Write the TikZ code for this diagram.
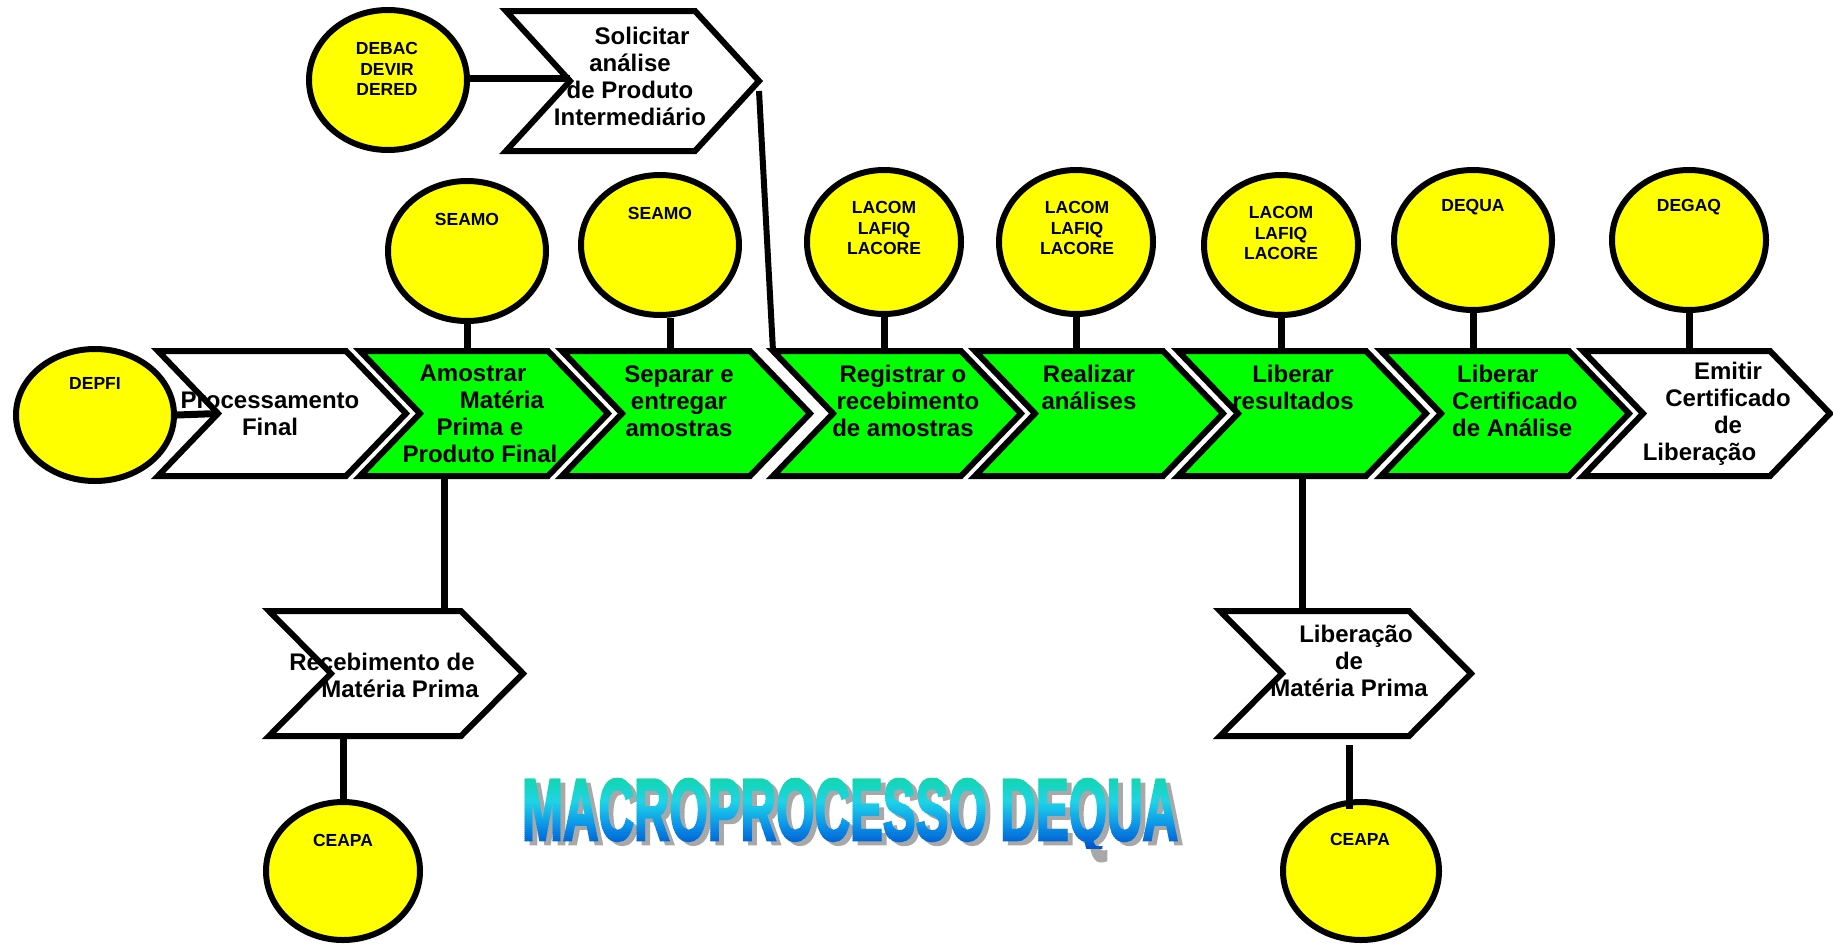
\documentclass[tikz,border=0pt]{standalone}
\usepackage{fontspec}
\usepackage{graphicx}
\setmainfont{Liberation Sans}
\newfontfamily\titlefont{Liberation Sans}[BoldFeatures={FakeBold=3}]
\usetikzlibrary{shapes.geometric,calc}

\definecolor{stepgreen}{HTML}{00FF00}
\definecolor{unitfill}{HTML}{FFFF00}
\definecolor{ttA}{HTML}{12D6AC}
\definecolor{ttB}{HTML}{1ED4E6}
\definecolor{ttC}{HTML}{0A90E8}
\definecolor{ttD}{HTML}{0058CC}
\definecolor{ttShadow}{HTML}{A8A8A8}

\tikzset{
  chevbox/.style={draw=none, inner sep=0pt, outer sep=0pt},
  chevline/.style={draw=black, line width=6pt, line join=miter},
  unit/.style={ellipse, draw=black, line width=6pt, fill=unitfill, inner sep=0pt},
  link/.style={draw=black, line width=7pt},
  lbl/.style={font=\fontsize{24}{27}\selectfont\bfseries, align=center, inner sep=0pt},
  tag/.style={font=\fontsize{17.5}{20.5}\selectfont\bfseries, align=center, inner sep=0pt},
  titlebox/.style={anchor=base west, inner sep=0pt, outer sep=0pt},
}

% name, centre x, centre y, width, height, point depth, fill
\newcommand\procstep[7]{%
  \node[chevbox, minimum width=#4pt, minimum height=#5pt] (#1) at (#2,#3) {};
  \filldraw[chevline, fill=#7] (#1.north west) -- ([xshift=-#6pt]#1.north east) -- (#1.east)
    -- ([xshift=-#6pt]#1.south east) -- (#1.south west) -- ([xshift=#6pt]#1.west) -- cycle;
}

\newcommand\macrotitle{\resizebox{656pt}{61pt}{\titlefont\bfseries MACROPROCESSO DEQUA}}

\begin{document}
\begin{tikzpicture}[x=1pt,y=-1pt]
\useasboundingbox (0,0) rectangle (1833,945);
\fill[white] (0,0) rectangle (1833,945);

% organisation units
\node[unit, minimum width=158pt, minimum height=132pt] (depfi)  at (95,415)  {};
\node[unit, minimum width=158pt, minimum height=140pt] (debac)  at (388,80)  {};
\node[unit, minimum width=158pt, minimum height=140pt] (seamoA) at (467,251) {};
\node[unit, minimum width=158pt, minimum height=140pt] (seamoB) at (660,245) {};
\node[unit, minimum width=154pt, minimum height=144pt] (lacomA) at (884,242) {};
\node[unit, minimum width=154pt, minimum height=144pt] (lacomB) at (1076,242) {};
\node[unit, minimum width=154pt, minimum height=140pt] (lacomC) at (1281,245) {};
\node[unit, minimum width=158pt, minimum height=140pt] (dequa)  at (1473,240) {};
\node[unit, minimum width=154pt, minimum height=140pt] (degaq)  at (1689,240) {};
\node[unit, minimum width=154pt, minimum height=138pt] (ceapaA) at (343,871) {};
\node[unit, minimum width=156pt, minimum height=138pt] (ceapaB) at (1361,871) {};

% process chain
\procstep{proc}{282}{413.5}{248}{125}{60}{white}
\procstep{amo}{484}{413.5}{248}{125}{60}{stepgreen}
\procstep{sep}{686}{413.5}{248}{125}{60}{stepgreen}
\procstep{reg}{897}{413.5}{248}{125}{60}{stepgreen}
\procstep{rea}{1099}{413.5}{248}{125}{60}{stepgreen}
\procstep{lib}{1302}{413.5}{248}{125}{60}{stepgreen}
\procstep{cert}{1505}{413.5}{248}{125}{60}{stepgreen}
\procstep{emit}{1706.5}{413.5}{247}{125}{60}{white}
\procstep{sol}{632.5}{81}{253}{140}{64}{white}
\procstep{rec}{396}{673.5}{254}{125}{62}{white}
\procstep{libmp}{1345.5}{673.5}{251}{125}{62}{white}

% links
\draw[link] (depfi.east) -- ($(proc.west)+(60,0)$);
\draw[link] ($(debac.east)+(0,-2)$) -- ($(sol.west)+(64,-3)$);
\draw[line width=6pt] ($(sol.east)+(0,10)$) -- (reg.north west);
\draw[link] (seamoA.south) -- (seamoA.south |- amo.north);
\draw[link] ($(seamoB.south)+(10,0)$) -- ($(seamoB.south |- sep.north)+(10,0)$);
\draw[link] (lacomA.south) -- (lacomA.south |- reg.north);
\draw[link] (lacomB.south) -- (lacomB.south |- rea.north);
\draw[link] (lacomC.south) -- (lacomC.south |- lib.north);
\draw[link] (dequa.south) -- (dequa.south |- cert.north);
\draw[link] (degaq.south) -- (degaq.south |- emit.north);
\draw[link] ($(amo.south)+(-40,0)$) -- ($(amo.south |- rec.north)+(-40,0)$);
\draw[link] (ceapaA.north |- rec.south) -- (ceapaA.north);
\draw[link] (lib.south) -- (lib.south |- libmp.north);
\draw[link] ($(libmp.south)+(4,9)$) -- ($(libmp.south |- ceapaB.north)+(4,10)$);

% unit labels
\node[tag] (tDepfi)  at (95,383)   {DEPFI};
\node[tag] (tDebac)  at (387,69)   {DEBAC\\DEVIR\\DERED};
\node[tag] (tSeamoA) at (467,219)  {SEAMO};
\node[tag] (tSeamoB) at (660,213)  {SEAMO};
\node[tag] (tLacomA) at (884,228)  {LACOM\\LAFIQ\\LACORE};
\node[tag] (tLacomB) at (1077,228) {LACOM\\LAFIQ\\LACORE};
\node[tag] (tLacomC) at (1281,233) {LACOM\\LAFIQ\\LACORE};
\node[tag] (tDequa)  at (1473,207) {DEQUA};
\node[tag] (tDegaq)  at (1689,207) {DEGAQ};
\node[tag] (tCeapaA) at (343,840)  {CEAPA};
\node[tag] (tCeapaB) at (1360,839) {CEAPA};

% step labels
\node[lbl] (tProc) at (270,414) {Processamento\\Final};
\node[lbl] (tAmo)  at (480,414) {Amostrar\hspace*{14pt}\\\hspace*{44pt}Matéria\\Prima e\hspace*{16pt}\\Produto Final};
\node[lbl] (tSep)  at (679,401) {Separar e\\entregar\\amostras};
\node[lbl] (tReg)  at (903,401) {Registrar o\\\hspace*{10pt}recebimento\\de amostras};
\node[lbl] (tRea)  at (1089,387) {Realizar\\análises};
\node[lbl] (tLib)  at (1293,387) {Liberar\\resultados};
\node[lbl, align=left, anchor=west] (tCert) at (1452,401) {\hspace*{5pt}Liberar\\Certificado\\de Análise};
\node[lbl] (tEmit) at (1728,414) {Emitir\\Certificado\\de\\Liberação\hspace*{57pt}};
\node[lbl] (tSol)  at (630,76) {\hspace*{24pt}Solicitar\\análise\hspace*{20pt}\\de Produto\\Intermediário};
\node[lbl] (tRec)  at (391,675) {Recebimento de\hspace*{18pt}\\\hspace*{18pt}Matéria Prima};
\node[lbl] (tLibmp) at (1349,661) {\hspace*{14pt}Liberação\\de\hspace*{32pt}\\Matéria Prima};

% heading: grey shadow, then the letters painted in thin colour bands
\node[titlebox, text=ttShadow] (titleShadow) at (527,844) {\macrotitle};
\foreach \i in {0,...,35}{
  \pgfmathtruncatemacro\k{\i*100/35}
  \ifnum\k<35
    \pgfmathtruncatemacro\p{\k*100/35}
    \colorlet{bandcol}{ttB!\p!ttA}
  \else\ifnum\k<70
    \pgfmathtruncatemacro\p{(\k-35)*100/35}
    \colorlet{bandcol}{ttC!\p!ttB}
  \else
    \pgfmathtruncatemacro\p{(\k-70)*100/30}
    \colorlet{bandcol}{ttD!\p!ttC}
  \fi\fi
  \pgfmathsetmacro\ya{776+2*\i}
  \pgfmathsetmacro\yb{\ya+2.6}
  \begin{scope}
    \clip (500,\ya) rectangle (1210,\yb);
    \node[titlebox, text=bandcol] (title\i) at (522,840) {\macrotitle};
  \end{scope}
}
\end{tikzpicture}
\end{document}
